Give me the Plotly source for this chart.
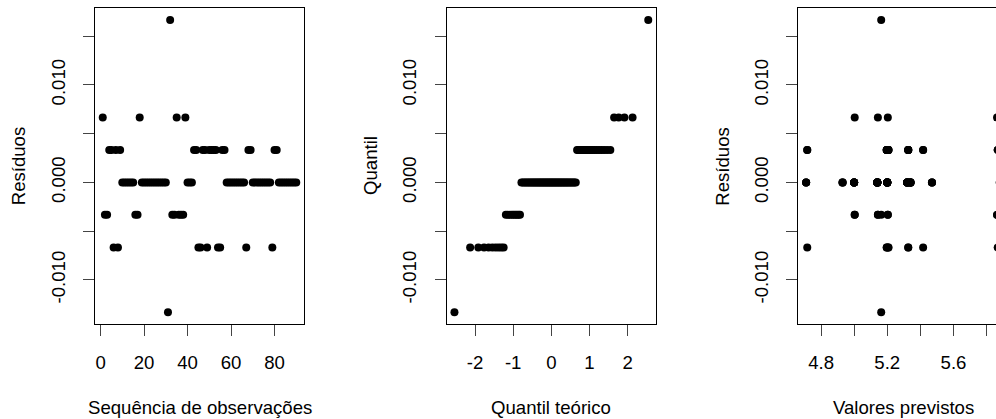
import plotly.graph_objects as go
from statistics import NormalDist

# ---------------- data ----------------
residuos = [
    0.00667, -0.00333, -0.00333, 0.00333, 0.00333, -0.00667, 0.00333, -0.00667, 0.00333,
    0.0, 0.0, 0.0, 0.0, 0.0, 0.0,
    -0.00333, -0.00333, 0.00667,
    0.0, 0.0, 0.0, 0.0, 0.0, 0.0, 0.0, 0.0, 0.0, 0.0, 0.0, 0.0,
    -0.01333, 0.01667, -0.00333, -0.00333, 0.00667, -0.00333, -0.00333, -0.00333, 0.00667,
    0.0, 0.0, 0.0,
    0.00333, 0.00333, -0.00667, -0.00667, 0.00333, 0.00333, -0.00667, 0.00333, 0.00333,
    0.00333, 0.00333, -0.00667, -0.00667, 0.00333, 0.00333,
    0.0, 0.0, 0.0, 0.0, 0.0, 0.0, 0.0, 0.0, 0.0,
    -0.00667, 0.00333, 0.00333,
    0.0, 0.0, 0.0, 0.0, 0.0, 0.0, 0.0, 0.0, 0.0,
    -0.00667, 0.00333, 0.00333,
    0.0, 0.0, 0.0, 0.0, 0.0, 0.0, 0.0, 0.0, 0.0,
]

valores_previstos = [
    5.00333, 5.00333, 5.00333, 4.71667, 4.71667, 4.71667, 5.19667, 5.19667, 5.19667,
    4.71, 4.71, 4.71, 4.93, 4.93, 4.93, 5.14333, 5.14333, 5.14333,
    5.00, 5.00, 5.00, 5.14, 5.14, 5.14, 5.20, 5.20, 5.20, 5.32, 5.32, 5.32,
    5.16333, 5.16333, 5.16333, 5.20333, 5.20333, 5.20333, 5.86333, 5.86333, 5.86333,
    5.34, 5.34, 5.34, 5.20667, 5.20667, 5.20667, 5.32667, 5.32667, 5.32667,
    5.41667, 5.41667, 5.41667, 5.86667, 5.86667, 5.86667, 5.32667, 5.32667, 5.32667,
    5.47, 5.47, 5.47, 5.88, 5.88, 5.88, 5.20, 5.20, 5.20,
    5.20667, 5.20667, 5.20667, 5.14, 5.14, 5.14, 5.32, 5.32, 5.32,
    5.00, 5.00, 5.00, 5.19667, 5.19667, 5.19667, 5.20, 5.20, 5.20,
    5.34, 5.34, 5.34, 5.14, 5.14, 5.14,
]

observacoes = list(range(1, len(residuos) + 1))

y_tickvals = [-0.010, -0.005, 0.000, 0.005, 0.010, 0.015]
y_ticktext = ["-0.010", "", "0.000", "", "0.010", ""]
x1_tickvals = [0, 20, 40, 60, 80]
x1_ticktext = ["0", "20", "40", "60", "80"]
x2_tickvals = [-2, -1, 0, 1, 2]
x2_ticktext = ["-2", "-1", "0", "1", "2"]
x3_tickvals = [4.8, 5.0, 5.2, 5.4, 5.6, 5.8]
x3_ticktext = ["4.8", "", "5.2", "", "5.6", ""]

titulos_x = ["Sequência de observações", "Quantil teórico", "Valores previstos"]
titulos_y = ["Resíduos", "Quantil", "Resíduos"]

# ---------------- derived (normal Q-Q) ----------------
n = len(residuos)
nd = NormalDist()
a = 3 / 8 if n <= 10 else 0.5
quantil_teorico = [nd.inv_cdf((i + 1 - a) / (n + 1 - 2 * a)) for i in range(n)]
quantil_amostral = sorted(residuos)

# ---------------- layout geometry ----------------
W, H = 996, 419
FONT = "Liberation Sans, Arial, Helvetica, sans-serif"
FS = 18.6


def rng(vals):
    lo, hi = min(vals), max(vals)
    d = 0.04 * (hi - lo)
    return [lo - d, hi + d]


panel_px = [(95.0, 304.0), (446.7, 656.0), (798.4, 1007.6)]
plot_top, plot_bot = 8.3, 324.0
ydom = [1 - plot_bot / H, 1 - plot_top / H]

fig = go.Figure()
mk = dict(color="black", size=8, line=dict(width=0))
fig.add_trace(go.Scatter(x=observacoes, y=residuos, mode="markers", marker=mk,
                         xaxis="x", yaxis="y", showlegend=False, cliponaxis=False))
fig.add_trace(go.Scatter(x=quantil_teorico, y=quantil_amostral, mode="markers", marker=mk,
                         xaxis="x2", yaxis="y2", showlegend=False, cliponaxis=False))
fig.add_trace(go.Scatter(x=valores_previstos, y=residuos, mode="markers", marker=mk,
                         xaxis="x3", yaxis="y3", showlegend=False, cliponaxis=True))

yr = rng(residuos)
xr = [rng(observacoes), rng(quantil_teorico), rng(valores_previstos)]
# third panel extends beyond the right edge of the picture
left3, right3 = panel_px[2]
frac = (W - left3) / (right3 - left3)
xr[2] = [xr[2][0], xr[2][0] + frac * (xr[2][1] - xr[2][0])]

xt = [(x1_tickvals, x1_ticktext), (x2_tickvals, x2_ticktext), (x3_tickvals, x3_ticktext)]
ax_common = dict(showgrid=False, zeroline=False, showline=True, linecolor="black",
                 linewidth=1, ticks="outside", ticklen=11, tickwidth=1, tickcolor="#444",
                 tickfont=dict(family=FONT, size=FS, color="black"))

annotations = []
for k in range(3):
    sfx = "" if k == 0 else str(k + 1)
    l, r = panel_px[k]
    r_vis = min(r, W)
    xdom = [l / W, r_vis / W]
    fig.layout["xaxis" + sfx] = dict(
        domain=xdom, range=xr[k], anchor="y" + sfx, mirror=True,
        tickmode="array", tickvals=xt[k][0], ticktext=xt[k][1],
        ticklabelstandoff=11, **ax_common)
    fig.layout["yaxis" + sfx] = dict(
        domain=ydom, range=yr, anchor="x" + sfx, mirror=(k < 2),
        tickmode="array", tickvals=y_tickvals, ticktext=y_ticktext,
        tickangle=-90, ticklabelstandoff=11, **ax_common)
    annotations.append(dict(text=titulos_x[k], x=(l + r) / 2 / W, y=1 - 407 / H,
                            xref="paper", yref="paper", xanchor="center", yanchor="middle",
                            showarrow=False, font=dict(family=FONT, size=FS, color="black")))
    annotations.append(dict(text=titulos_y[k], x=(l - 76.7) / W, y=1 - 166 / H,
                            xref="paper", yref="paper", xanchor="center", yanchor="middle",
                            textangle=-90, showarrow=False,
                            font=dict(family=FONT, size=FS, color="black")))

fig.update_layout(width=W, height=H, margin=dict(l=0, r=0, t=0, b=0, autoexpand=False),
                  paper_bgcolor="white", plot_bgcolor="white", annotations=annotations,
                  font=dict(family=FONT, size=FS, color="black"))

fig.write_html("out.html", config={"displayModeBar": False},
               post_script="document.body.style.margin='0';document.body.style.overflow='hidden';")
